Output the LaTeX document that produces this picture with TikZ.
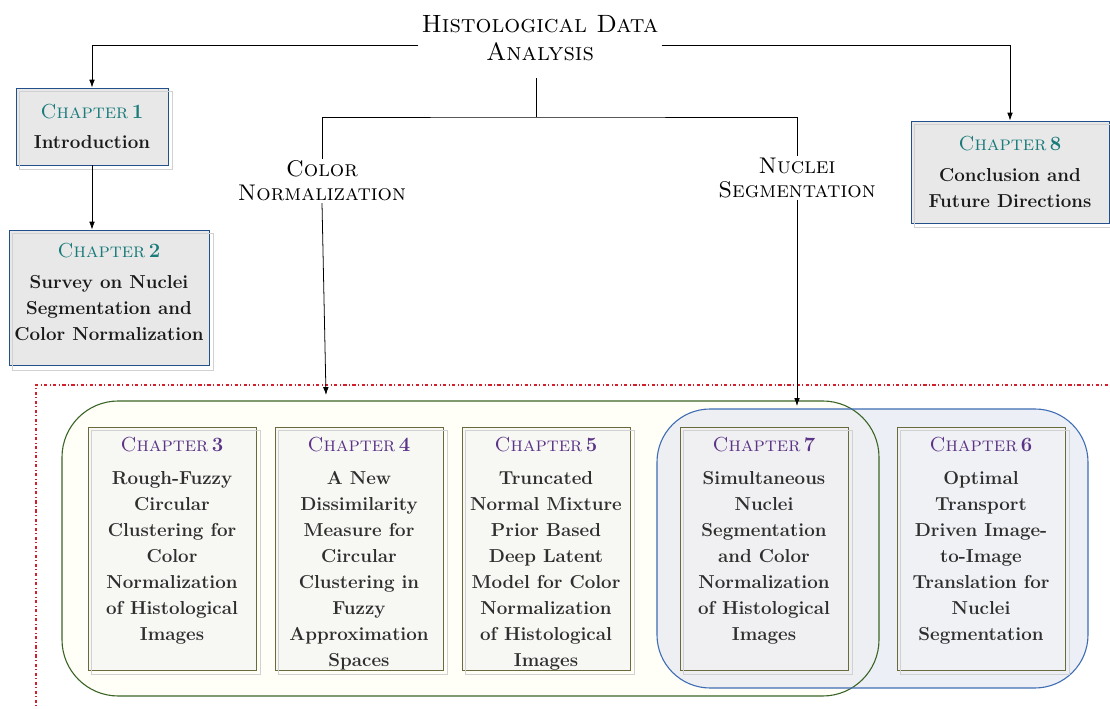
\documentclass[tikz,border=0pt]{standalone}
\usetikzlibrary{arrows.meta}

\definecolor{chapteal}{HTML}{1A7B7B}
\definecolor{chappurple}{HTML}{5B3488}
\definecolor{boxblue}{HTML}{23508A}
\definecolor{boxolive}{HTML}{6A6A3C}
\definecolor{grpgreen}{HTML}{3A6526}
\definecolor{grpblue}{HTML}{3E6DB3}
\definecolor{dotred}{HTML}{D4202C}
\definecolor{grpfill}{HTML}{DCE0F0}

\newcommand{\bodyfont}{\fontsize{12}{16.6}\selectfont\bfseries}
\newcommand{\chap}[2]{{\fontsize{13}{16.6}\selectfont\mdseries\color{#1}\textsc{Chapter}\,\textbf{#2}}}
\newcommand{\ghostbox}[1]{\draw[ghost] ([shift={(4,4)}]#1.north west) rectangle ([shift={(4,4)}]#1.south east);}

\begin{document}
\begin{tikzpicture}[x=0.64pt, y=-0.64pt,
    topbox/.style={draw=boxblue, fill=black!9, line width=0.6pt, align=center, font=\bodyfont, text=black!90},
    lowbox/.style={draw=boxolive, fill=black!5, fill opacity=0.6, line width=0.6pt,
        minimum width=107.5pt, minimum height=155.5pt},
    lowtext/.style={anchor=north, align=center, font=\bodyfont, text=black!82, yshift=-3pt},
    ghost/.style={draw=black!18, line width=0.6pt},
    branch/.style={align=center, font=\fontsize{14.5}{15.4}\selectfont\scshape, inner sep=1pt},
    arr/.style={-{Latex[length=5pt, width=3.6pt]}, line width=0.5pt}
]
\useasboundingbox (0,0) rectangle (1110,709);

% groups
\draw[dotred, line width=1pt, dash pattern=on 2pt off 1.6pt on 0.6pt off 1.6pt]
    (36,712) -- (36,385) -- (1112,385);
\fill[yellow!3] (62,401) [rounded corners=36pt] rectangle (879,696);
\fill[grpfill, fill opacity=0.5] (657,409) [rounded corners=34pt] rectangle (1088,688);
\draw[grpgreen, line width=0.7pt] (62,401) [rounded corners=36pt] rectangle (879,696);
\draw[grpblue, line width=0.7pt] (657,409) [rounded corners=34pt] rectangle (1088,688);

% title and branches
\node[font=\fontsize{16}{18}\selectfont\scshape, align=center, inner sep=2pt] (hda) at (540,38)
    {Histological Data\\Analysis};
\node[branch] (cn) at (322,181) {Color\\Normalization};
\node[branch] (ns) at (797,178) {Nuclei\\Segmentation};

% top chapters
\node[topbox, minimum width=97.3pt, minimum height=49.3pt] (c1) at (92,126.5)
    {\chap{chapteal}{1}\\[3pt] Introduction};
\node[topbox, minimum width=128pt, minimum height=87pt] (c2) at (109,298)
    {\chap{chapteal}{2}\\[3pt] Survey on Nuclei\\ Segmentation and\\ Color Normalization\\[-9pt]\mbox{}};
\node[topbox, minimum width=126.7pt, minimum height=65.3pt] (c8) at (1010,172)
    {\chap{chapteal}{8}\\[3pt] Conclusion and\\ Future Directions};
\ghostbox{c1}
\ghostbox{c2}
\ghostbox{c8}

% lower chapters
\node[lowbox] (c3) at (172,548.5) {};
\node[lowbox] (c4) at (359,548.5) {};
\node[lowbox] (c5) at (546,548.5) {};
\node[lowbox] (c7) at (764,548.5) {};
\node[lowbox] (c6) at (981,548.5) {};
\foreach \c in {c3,c4,c5,c7,c6} {\ghostbox{\c}}
\node[lowtext] (t3) at (c3.north) {\chap{chappurple}{3}\\[5pt] Rough-Fuzzy\\ Circular\\ Clustering for\\ Color\\ Normalization\\ of Histological\\ Images};
\node[lowtext] (t4) at (c4.north) {\chap{chappurple}{4}\\[5pt] A New\\ Dissimilarity\\ Measure for\\ Circular\\ Clustering in\\ Fuzzy\\ Approximation\\ Spaces};
\node[lowtext] (t5) at (c5.north) {\chap{chappurple}{5}\\[5pt] Truncated\\ Normal Mixture\\ Prior Based\\ Deep Latent\\ Model for Color\\ Normalization\\ of Histological\\ Images};
\node[lowtext] (t7) at (c7.north) {\chap{chappurple}{7}\\[5pt] Simultaneous\\ Nuclei\\ Segmentation\\ and Color\\ Normalization\\ of Histological\\ Images};
\node[lowtext] (t6) at (c6.north) {\chap{chappurple}{6}\\[5pt] Optimal\\ Transport\\ Driven Image-\\ to-Image\\ Translation for\\ Nuclei\\ Segmentation};

% connectors
\coordinate (split) at (536,117);
\coordinate (cnin) at (326,395);
\coordinate (nsin) at (797,406);
\draw[arr] ([yshift=-4.5pt]hda.west) -| (c1.north);
\draw[arr] ([yshift=-4.5pt]hda.east) -| (c8.north);
\draw[arr] (c1.south) -- (c1.south |- c2.north);
\draw (split |- hda.south) ++(0,14) -- (split);
\draw (cn.north) |- (split) -| (ns.north);
\draw[arr] (cn.south) -- (cnin);
\draw[arr] (ns.south) -- (nsin);
\end{tikzpicture}
\end{document}
